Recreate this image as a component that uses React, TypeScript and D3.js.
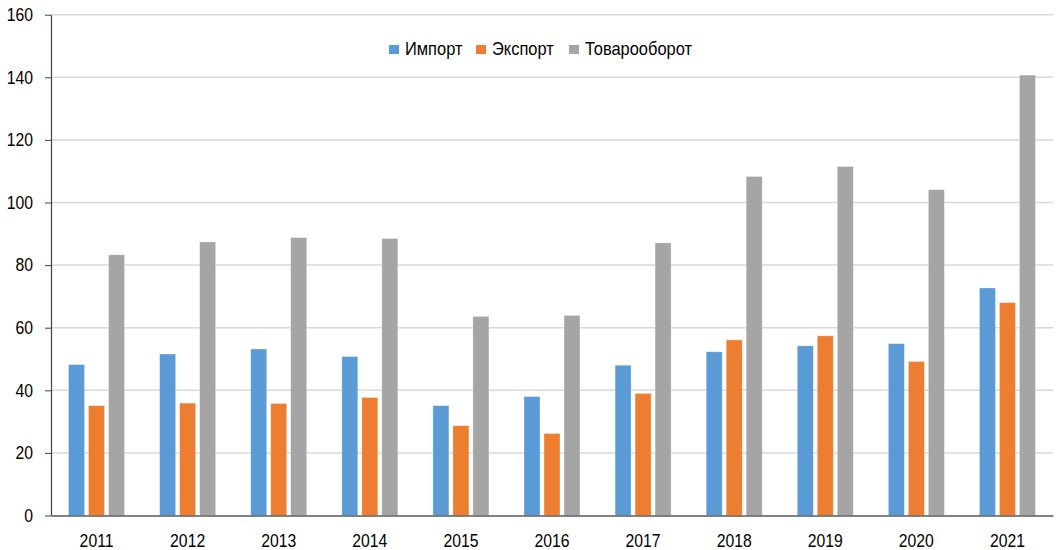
import React, { useEffect, useRef } from "react";
import * as d3 from "d3";

const years = ["2011", "2012", "2013", "2014", "2015", "2016", "2017", "2018", "2019", "2020", "2021"];
const seriesNames = ["Импорт", "Экспорт", "Товарооборот"];
const importValues = [48.2, 51.6, 53.2, 50.8, 35.1, 38.0, 48.0, 52.3, 54.2, 54.9, 72.7];
const exportValues = [35.1, 35.9, 35.8, 37.7, 28.7, 26.2, 39.0, 56.1, 57.4, 49.2, 68.0];
const turnoverValues = [83.3, 87.4, 88.8, 88.5, 63.6, 63.9, 87.1, 108.3, 111.5, 104.1, 140.7];
const yTicks = [0, 20, 40, 60, 80, 100, 120, 140, 160];
const colors = ["#5b9bd5", "#ed7d31", "#a5a5a5"];

const App: React.FC = () => {
  const ref = useRef<SVGSVGElement>(null);

  useEffect(() => {
    if (!ref.current) return;
    const width = 1058;
    const height = 550;
    const margin = { top: 14.7, right: 5, bottom: 34.5, left: 51 };

    const svg = d3.select(ref.current);
    svg.selectAll("*").remove();

    const x = d3
      .scaleBand<string>()
      .domain(years)
      .range([margin.left, width - margin.right]);
    const inner = d3
      .scaleBand<string>()
      .domain(seriesNames)
      .range([0, 56])
      .paddingInner(0.2);
    const y = d3
      .scaleLinear()
      .domain([0, 160])
      .range([height - margin.bottom, margin.top]);

    const font = "'Liberation Sans', Arial, sans-serif";

    // gridlines
    svg
      .append("g")
      .selectAll("line")
      .data(yTicks.filter((t) => t > 0))
      .enter()
      .append("line")
      .attr("x1", margin.left)
      .attr("x2", width - margin.right)
      .attr("y1", (d) => y(d))
      .attr("y2", (d) => y(d))
      .attr("stroke", "#d9d9d9")
      .attr("stroke-width", 1.5);

    const data = [importValues, exportValues, turnoverValues];

    data.forEach((values, si) => {
      svg
        .append("g")
        .selectAll("rect")
        .data(values)
        .enter()
        .append("rect")
        .attr("x", (_, i) => x(years[i])! + x.bandwidth() / 2 - 28 + inner(seriesNames[si])!)
        .attr("y", (d) => y(d))
        .attr("width", inner.bandwidth())
        .attr("height", (d) => y(0) - y(d))
        .attr("fill", colors[si])
        .attr("stroke", "#ffffff")
        .attr("stroke-opacity", 0.4)
        .attr("stroke-width", 0.75);
    });

    // y axis
    const yAxis = svg
      .append("g")
      .attr("transform", `translate(${margin.left},0)`)
      .call(d3.axisLeft(y).tickValues(yTicks).tickSize(6).tickSizeOuter(0));
    yAxis.select(".domain").attr("stroke", "#404040").attr("stroke-width", 1.2);
    yAxis.selectAll(".tick line").attr("stroke", "#404040");
    yAxis
      .selectAll("text")
      .attr("x", 0)
      .attr("transform", "translate(-18,0) scale(0.875,1)")
      .attr("font-family", font)
      .attr("font-size", 18)
      .attr("fill", "#000");

    // x axis
    const xAxis = svg
      .append("g")
      .attr("transform", `translate(0,${y(0)})`)
      .call(d3.axisBottom(x).tickSize(0).tickPadding(18.5));
    xAxis.select(".domain").attr("stroke", "#595959").attr("stroke-width", 1.5);
    xAxis
      .selectAll("text")
      .attr("transform", "scale(0.875,1)")
      .attr("font-family", font)
      .attr("font-size", 18)
      .attr("fill", "#000");
    xAxis.selectAll(".tick").each(function () {
      const t = d3.select(this).attr("transform");
      d3.select(this).attr("transform", t);
    });

    // legend
    const legendX = [389, 476, 569];
    const legend = svg
      .append("g")
      .selectAll("g")
      .data(seriesNames)
      .enter()
      .append("g")
      .attr("transform", (_, i) => `translate(${legendX[i]},45)`);
    legend
      .append("rect")
      .attr("x", 0)
      .attr("y", 0)
      .attr("width", 10)
      .attr("height", 9)
      .attr("fill", (_, i) => colors[i]);
    legend
      .append("text")
      .attr("transform", "translate(16,10) scale(0.94,1)")
      .attr("font-family", font)
      .attr("font-size", 17.5)
      .attr("fill", "#000")
      .text((d) => d);
  }, []);

  return (
    <svg
      ref={ref}
      width={1058}
      height={550}
      style={{ position: "absolute", left: 0, top: 0, background: "#fff" }}
    />
  );
};

export default App;
